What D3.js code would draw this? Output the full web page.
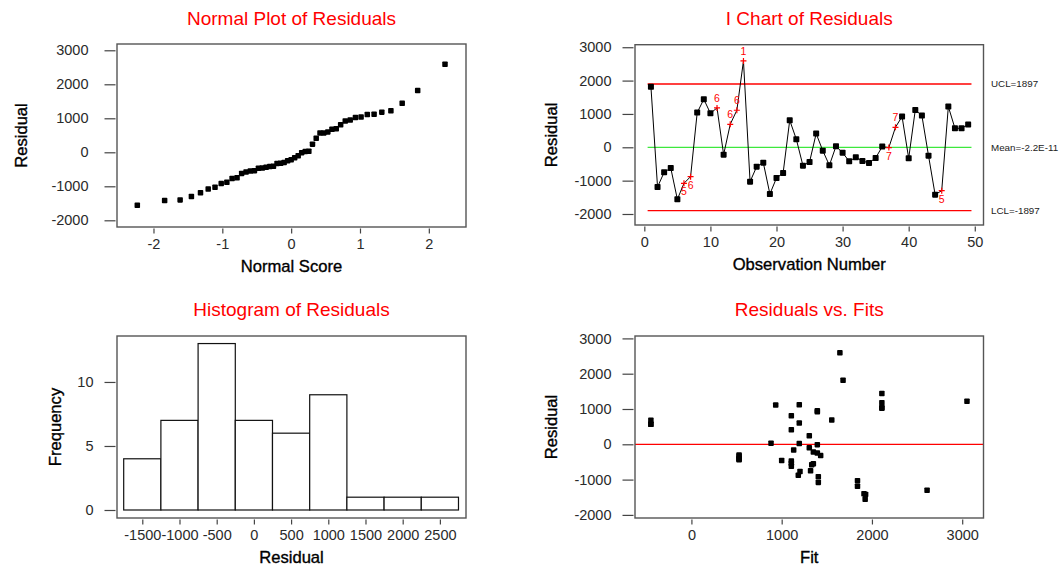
<!DOCTYPE html>
<html><head><meta charset="utf-8">
<script src="https://cdn.jsdelivr.net/npm/d3@7"></script>
<style>
body{margin:0;background:#fff;}
svg{display:block;font-family:"Liberation Sans",Arial,sans-serif;}
</style></head><body>
<svg id="chart" width="1064" height="571"></svg>
<script>
// Residuals in observation order
const residuals = [1815, -1190, -750, -620, -1560, -1080, -880, 1040, 1440, 1020,
  1180, -220, 690, 1110, 2590, -1030, -580, -460, -1400, -920,
  -770, 810, 240, -550, -440, 410, -100, -540, 30, -160,
  -420, -300, -410, -470, -320, 20, -10, 600, 920, -330,
  1120, 950, -250, -1420, -1300, 1220, 570, 570, 680];
// Fitted values in observation order
const fits = [1680, 1840, 1320, 1107, 1925, 1406, 1184, 2110, 2110, 2110,
  2110, 1351, 1555, 934, 1645, 1840, 1333, 1000, 1912, 1406,
  1203, 1107, 1306, 1351, 528, 1107, 1306, 1107, 882, 1133,
  528, 528, 528, 1107, 1432, 1195, 1395, 1195, 1395, 528,
  1195, 1395, 1395, 1930, 2611, 3053, -449, -449, -449];
// Normal scores for n = 49, lowest to highest
const normalScores = [-2.235, -1.838, -1.613, -1.449, -1.317, -1.205, -1.106, -1.016, -0.934, -0.858,
  -0.786, -0.719, -0.655, -0.593, -0.533, -0.475, -0.419, -0.364, -0.310, -0.257,
  -0.205, -0.153, -0.102, -0.051, 0, 0.051, 0.102, 0.153, 0.205, 0.257,
  0.310, 0.364, 0.419, 0.475, 0.533, 0.593, 0.655, 0.719, 0.786, 0.858,
  0.934, 1.016, 1.106, 1.205, 1.317, 1.449, 1.613, 1.838, 2.235];
// Histogram bins
const histMidpoints = [-1500, -1000, -500, 0, 500, 1000, 1500, 2000, 2500];
const histCounts = [4, 7, 13, 7, 6, 9, 1, 1, 1];
const binWidth = 500;
// Control limits
const ucl = 1897, lcl = -1897, meanLine = 0;
const limitLabels = ["UCL=1897", "Mean=-2.2E-11", "LCL=-1897"];
// Observations that fail a special-cause test, with the test number
const testFlags = [
  {obs: 6, test: "5"}, {obs: 7, test: "6"}, {obs: 11, test: "6"}, {obs: 13, test: "6"},
  {obs: 14, test: "6"}, {obs: 15, test: "1"}, {obs: 37, test: "7"}, {obs: 38, test: "7"},
  {obs: 45, test: "5"}];
// Tick values
const residualTicks = [-2000, -1000, 0, 1000, 2000, 3000];
const scoreTicks = [-2, -1, 0, 1, 2];
const obsTicks = [0, 10, 20, 30, 40, 50];
const freqTicks = [0, 5, 10];
const fitTicks = [0, 1000, 2000, 3000];

const svg = d3.select("#chart");
const RED = "#ff0000";
const GREEN = "#3de83d";

function panel(cfg) {
  const g = svg.append("g");
  const {x0, x1, y0, y1} = cfg.frame;
  const x = d3.scaleLinear().domain(cfg.xDomain).range([x0, x1]);
  const y = d3.scaleLinear().domain(cfg.yDomain).range([y1, y0]);
  const fmt = d => d3.format("d")(d).replace("−", "-");

  // title
  g.append("text").attr("x", (x0 + x1) / 2).attr("y", cfg.titleY)
    .attr("text-anchor", "middle").attr("dy", "0.35em")
    .attr("font-size", 19).attr("fill", RED).text(cfg.title);

  // axes
  const ya = g.append("g").attr("transform", `translate(${x0 - 1.5},0)`)
    .call(d3.axisLeft(y).tickValues(cfg.yTicks).tickSize(11).tickPadding(cfg.yPad).tickFormat(fmt));
  const xa = g.append("g").attr("transform", `translate(0,${y1 + 1.5})`)
    .call(d3.axisBottom(x).tickValues(cfg.xTicks).tickSize(5).tickPadding(5).tickFormat(fmt));
  [ya, xa].forEach(a => {
    a.select(".domain").remove();
    a.selectAll("line").attr("stroke", "#444").attr("stroke-width", 1.2);
    a.selectAll("text").attr("font-size", 14.5).attr("fill", "#2a2a2a")
      .attr("font-family", "'Liberation Sans',Arial,sans-serif");
  });

  // axis titles
  g.append("text").attr("x", (x0 + x1) / 2).attr("y", y1 + 39).attr("dy", "0.35em")
    .attr("text-anchor", "middle").attr("font-size", 16.6).attr("fill", "#000")
    .attr("stroke", "#000").attr("stroke-width", 0.35).text(cfg.xLabel);
  g.append("text").attr("transform", `translate(${cfg.yLabelX},${(y0 + y1) / 2}) rotate(-90)`)
    .attr("dy", "0.35em").attr("text-anchor", "middle").attr("font-size", 16.6)
    .attr("fill", "#000").attr("stroke", "#000").attr("stroke-width", 0.35).text(cfg.yLabel);

  const plot = g.append("g");
  // frame
  g.append("rect").attr("x", x0).attr("y", y0).attr("width", x1 - x0).attr("height", y1 - y0)
    .attr("fill", "none").attr("stroke", "#555").attr("stroke-width", 1.4);
  return {g: plot, x, y};
}

function squares(g, data, x, y, size) {
  g.selectAll(null).data(data).enter().append("rect")
    .attr("x", d => x(d[0]) - size / 2).attr("y", d => y(d[1]) - size / 2)
    .attr("width", size).attr("height", size).attr("rx", 0.8).attr("fill", "#000");
}

// Normal plot of residuals
{
  const p = panel({
    frame: {x0: 117, x1: 466, y0: 44, y1: 227},
    xDomain: [-2.53, 2.54], yDomain: [-2197, 3185],
    xTicks: scoreTicks, yTicks: residualTicks, yPad: 16,
    title: "Normal Plot of Residuals", titleY: 18,
    xLabel: "Normal Score", yLabel: "Residual", yLabelX: 21
  });
  const sorted = residuals.slice().sort(d3.ascending);
  squares(p.g, normalScores.map((s, i) => [s, sorted[i]]), p.x, p.y, 5.5);
}

// I chart of residuals
{
  const p = panel({
    frame: {x0: 635, x1: 983.5, y0: 44.7, y1: 225},
    xDomain: [-1.41, 51.32], yDomain: [-2330, 3076],
    xTicks: obsTicks, yTicks: residualTicks, yPad: 11,
    title: "I Chart of Residuals", titleY: 18,
    xLabel: "Observation Number", yLabel: "Residual", yLabelX: 551
  });
  const {g, x, y} = p;
  const lim = [[ucl, RED], [meanLine, GREEN], [lcl, RED]];
  lim.forEach(([v, c], i) => {
    g.append("line").attr("x1", x(0.5)).attr("x2", x(49.5)).attr("y1", y(v)).attr("y2", y(v))
      .attr("stroke", c).attr("stroke-width", 1.3);
    svg.append("text").attr("x", 991).attr("y", y(v)).attr("dy", "0.35em")
      .attr("font-size", 9.8).attr("fill", "#222").text(limitLabels[i]);
  });
  const pts = residuals.map((r, i) => [i + 1, r]);
  g.append("path").datum(pts)
    .attr("d", d3.line().x(d => x(d[0])).y(d => y(d[1])))
    .attr("fill", "none").attr("stroke", "#000").attr("stroke-width", 1);
  const flagged = new Set(testFlags.map(f => f.obs));
  squares(g, pts.filter(d => !flagged.has(d[0])), x, y, 6);
  testFlags.forEach(f => {
    const v = residuals[f.obs - 1];
    const cx = x(f.obs), cy = y(v);
    g.append("path").attr("d", `M${cx - 3},${cy}H${cx + 3}M${cx},${cy - 3}V${cy + 3}`)
      .attr("stroke", RED).attr("stroke-width", 1.2);
    const above = v >= meanLine;
    g.append("text").attr("x", cx).attr("y", above ? cy - 6 : cy + 12)
      .attr("text-anchor", "middle").attr("font-size", 10.5).attr("fill", RED).text(f.test);
  });
}

// Histogram of residuals
{
  const p = panel({
    frame: {x0: 117, x1: 466, y0: 336, y1: 518},
    xDomain: [-1840, 2851], yDomain: [-0.625, 13.59],
    xTicks: histMidpoints, yTicks: freqTicks, yPad: 11,
    title: "Histogram of Residuals", titleY: 309.5,
    xLabel: "Residual", yLabel: "Frequency", yLabelX: 55
  });
  const {g, x, y} = p;
  g.selectAll(null).data(histMidpoints.map((m, i) => [m, histCounts[i]])).enter().append("rect")
    .attr("x", d => x(d[0] - binWidth / 2)).attr("width", d => x(d[0] + binWidth / 2) - x(d[0] - binWidth / 2))
    .attr("y", d => y(d[1])).attr("height", d => y(0) - y(d[1]))
    .attr("fill", "#fff").attr("stroke", "#111").attr("stroke-width", 1.2);
}

// Residuals versus fitted values
{
  const p = panel({
    frame: {x0: 635, x1: 983.5, y0: 336, y1: 518},
    xDomain: [-625, 3236], yDomain: [-2088, 3068],
    xTicks: fitTicks, yTicks: residualTicks, yPad: 11,
    title: "Residuals vs. Fits", titleY: 309.5,
    xLabel: "Fit", yLabel: "Residual", yLabelX: 551
  });
  const {g, x, y} = p;
  g.append("line").attr("x1", x.range()[0]).attr("x2", x.range()[1])
    .attr("y1", y(0)).attr("y2", y(0)).attr("stroke", RED).attr("stroke-width", 1.2);
  squares(g, fits.map((f, i) => [f, residuals[i]]), x, y, 5.5);
}
</script>
</body></html>
